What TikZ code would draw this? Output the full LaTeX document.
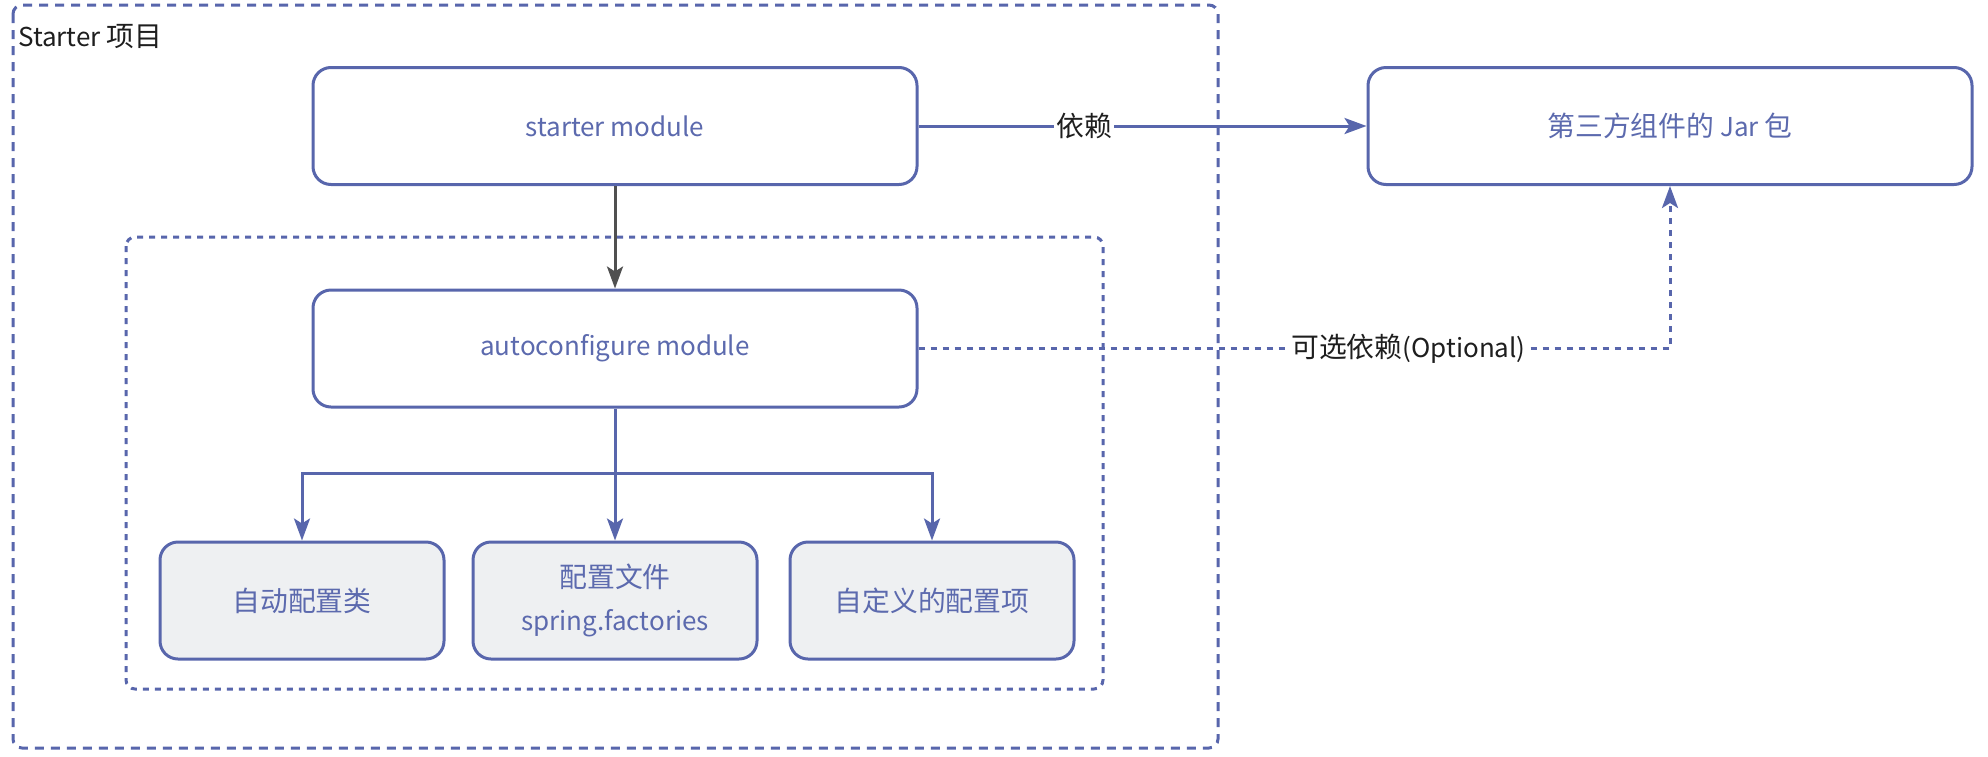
\documentclass[tikz,border=0pt]{standalone}
\usepackage{fontspec}
\setmainfont{Noto Sans CJK SC}
\newfontfamily\zhfont{Noto Sans CJK SC}[Scale=1.07]
\usetikzlibrary{arrows.meta}

\definecolor{edgeblue}{RGB}{88,102,172}
\definecolor{boxtext}{RGB}{92,106,174}
\definecolor{cardfill}{RGB}{238,240,242}
\definecolor{darkarrow}{RGB}{80,80,80}
\definecolor{labeltext}{RGB}{30,30,30}

\begin{document}
\begin{tikzpicture}[x=1pt,y=-1pt,
  module/.style={draw=edgeblue, line width=3pt, rounded corners=18pt, fill=white,
    text=boxtext, font=\fontsize{26}{32}\selectfont, align=center,
    minimum width=604pt, minimum height=117pt, inner sep=0pt},
  card/.style={module, fill=cardfill, minimum width=284pt},
  groupbox/.style={draw=edgeblue, line width=3pt, rounded corners=9pt},
  outerdash/.style={groupbox, dash pattern=on 9pt off 7pt},
  innerdot/.style={groupbox, dash pattern=on 6pt off 6pt},
  link/.style={draw=edgeblue, line width=3pt},
  tip/.style={-{Stealth[length=22pt, width=16pt, inset=5pt]}},
  edgelabel/.style={fill=white, text=labeltext, inner sep=2pt,
    font=\fontsize{26}{32}\selectfont}
]
\useasboundingbox (0,0) rectangle (1988,756);

% project and module groups
\draw[outerdash] (13,5) rectangle (1218,748);
\draw[innerdot] (126,237) rectangle (1103,689);
\node[anchor=west, text=labeltext, inner sep=0pt, font=\fontsize{26}{30}\selectfont]
  (title) at (18,37) {Starter {\zhfont 项目}};

% boxes
\node[module] (starter) at (615,126) {starter module};
\node[module] (auto) at (615,348.5) {autoconfigure module};
\node[module] (jar) at (1670,126) {{\zhfont 第三方组件的} Jar {\zhfont 包}};
\node[card] (cfgclass) at (302,600.5) {\zhfont 自动配置类};
\node[card] (cfgfile) at (615,600.5) {{\zhfont 配置文件}\\[11pt]spring.factories};
\node[card] (cfgprops) at (932,600.5) {\zhfont 自定义的配置项};

% dependencies
\draw[link, tip] (starter.east) -- node[edgelabel, pos=0.37] {\zhfont 依赖} (jar.west);
\draw[line width=3pt, draw=darkarrow, tip] (starter.south) -- (auto.north);
\draw[link, tip, dash pattern=on 6pt off 6pt] (auto.east) -|
  node[edgelabel, pos=0.326] {{\zhfont 可选依赖}(Optional)} (jar.south);

% fan-out to the generated parts
\coordinate (fork) at (615,473);
\draw[link] (auto.south) -- (fork);
\draw[link, tip] (fork) -| (cfgclass.north);
\draw[link, tip] (fork) -- (cfgfile.north);
\draw[link, tip] (fork) -| (cfgprops.north);
\end{tikzpicture}
\end{document}
